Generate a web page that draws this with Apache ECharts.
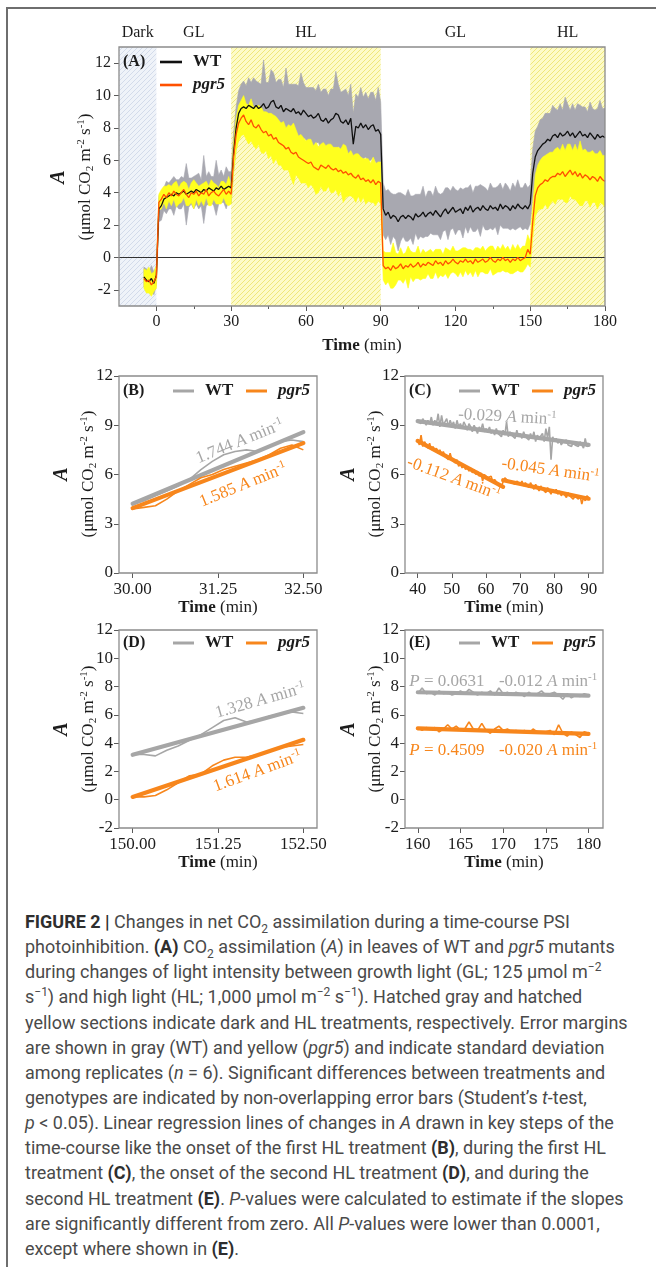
<!DOCTYPE html>
<html>
<head>
<meta charset="utf-8">
<title>Net CO2 assimilation during PSI photoinhibition</title>
<script src="https://cdn.jsdelivr.net/npm/echarts@6.0.0/dist/echarts.min.js"></script>
<style>
  html, body { margin: 0; padding: 0; background: #fff; }
  #page { position: relative; width: 656px; height: 1267px; overflow: hidden; background: #fff; }
  #frame { position: absolute; left: 6px; top: 7px; width: 720px; height: 1300px;
           border-left: 2px solid #6e6e6e; border-top: 2px solid #6e6e6e; }
  #chart { position: absolute; left: 0; top: 0; width: 656px; height: 880px; }
  #caption { position: absolute; left: 25px; top: 909px; font-family: Roboto, "Liberation Sans", Arial, sans-serif;
             font-size: 18px; line-height: 25.15px; color: #4a4a4a; white-space: nowrap; transform-origin: 0 0; }
  #caption .ln { height: 25.15px; }
  #caption b { color: #2e2e2e; }
  #caption sub, #caption sup { font-size: 12px; line-height: 0; }
</style>
</head>
<body>
<div id="page">
  <div id="frame"></div>
  <div id="chart"></div>
  <div id="caption">
    <div class="ln"><b>FIGURE 2 |</b> Changes in net CO<sub>2</sub> assimilation during a time-course PSI</div>
    <div class="ln">photoinhibition. <b>(A)</b> CO<sub>2</sub> assimilation (<i>A</i>) in leaves of WT and <i>pgr5</i> mutants</div>
    <div class="ln">during changes of light intensity between growth light (GL; 125 μmol m<sup>−2</sup></div>
    <div class="ln">s<sup>−1</sup>) and high light (HL; 1,000 μmol m<sup>−2</sup> s<sup>−1</sup>). Hatched gray and hatched</div>
    <div class="ln">yellow sections indicate dark and HL treatments, respectively. Error margins</div>
    <div class="ln">are shown in gray (WT) and yellow (<i>pgr5</i>) and indicate standard deviation</div>
    <div class="ln">among replicates (<i>n</i> = 6). Significant differences between treatments and</div>
    <div class="ln">genotypes are indicated by non-overlapping error bars (Student’s <i>t</i>-test,</div>
    <div class="ln"><i>p</i> &lt; 0.05). Linear regression lines of changes in <i>A</i> drawn in key steps of the</div>
    <div class="ln">time-course like the onset of the first HL treatment <b>(B)</b>, during the first HL</div>
    <div class="ln">treatment <b>(C)</b>, the onset of the second HL treatment <b>(D)</b>, and during the</div>
    <div class="ln">second HL treatment <b>(E)</b>. <i>P</i>-values were calculated to estimate if the slopes</div>
    <div class="ln">are significantly different from zero. All <i>P</i>-values were lower than 0.0001,</div>
    <div class="ln">except where shown in <b>(E)</b>.</div>
  </div>
</div>
<script>
// ---------- sampling grids ----------
function seq(start, count, step) {
  return Array.from({ length: count }, (_, i) => +(start + i * step).toFixed(4));
}

// ---------- (A) whole time course, one value per minute from -5 to 180 min ----------
const timeA = seq(-5, 186, 1);
const wtMeanA = [
  -1.2, -1.4, -1.5, -1.3, -1.6, -1.1,
  3.0, 3.2, 3.6, 3.7, 3.8, 3.9, 3.8, 4.0, 3.9, 4.0, 4.1, 3.9, 4.0, 4.1, 4.0, 4.2, 4.1, 4.0, 4.2, 4.1,
  4.3, 4.2, 4.1, 4.3, 4.2, 4.4, 4.2, 4.3, 4.4, 4.3,
  6.5, 8.0, 8.9, 9.2, 9.3, 9.2, 9.4, 9.3, 9.2, 9.4, 9.2, 9.3, 9.5, 9.2, 9.3, 9.6, 9.7, 9.3, 9.2, 9.4,
  9.0, 9.2, 9.1, 9.0, 9.2, 8.9, 9.0, 8.8, 9.1, 8.9, 8.7, 8.8, 8.6, 8.7, 8.9, 8.5, 8.4, 8.6, 8.3, 8.5,
  8.6, 8.9, 8.8, 8.4, 8.3, 8.5, 8.2, 8.6, 7.0, 8.1, 8.0, 8.3, 8.0, 8.2, 7.9, 8.1, 8.2, 7.8, 7.9, 7.6,
  3.0, 2.6, 2.8, 2.4, 2.6, 2.5, 2.2, 2.5, 2.6, 2.4, 2.6, 2.5, 2.3, 2.7, 2.5, 2.6, 2.8, 2.5, 2.7, 2.8,
  2.6, 2.9, 2.7, 2.5, 2.8, 3.0, 2.7, 2.9, 3.1, 2.8, 2.9, 3.0, 2.7, 3.1, 2.9, 3.2, 2.8, 3.0, 3.1, 2.9,
  3.2, 3.0, 2.9, 3.2, 3.0, 3.1, 2.9, 3.3, 3.0, 3.2, 3.1, 2.9, 3.2, 3.0, 3.3, 3.1, 3.0, 3.2, 3.0, 3.3,
  5.2, 6.2, 6.6, 6.8, 7.0, 7.1, 7.3, 7.2, 7.5, 7.6, 7.4, 7.7, 7.5, 7.6, 7.8, 7.5, 7.7, 7.4, 7.6, 7.8,
  7.5, 7.6, 7.4, 7.7, 7.5, 7.3, 7.6, 7.4, 7.5, 7.4
];
const wtSdA = [
  0.6, 0.7, 0.6, 0.8, 0.7, 0.6,
  0.8, 0.9, 0.7, 1.0, 0.8, 0.9, 1.2, 0.8, 0.9, 1.0, 0.8, 1.9, 0.9, 0.8, 1.0, 0.9, 1.1, 0.8, 2.1, 0.9,
  1.0, 0.8, 0.9, 1.7, 0.9, 1.0, 0.8, 1.3, 0.9, 1.0,
  1.2, 1.3, 1.4, 1.5, 1.6, 1.4, 1.7, 1.5, 1.9, 1.5, 1.6, 1.4, 2.7, 1.6, 1.5, 2.0, 1.7, 1.5, 1.8, 1.6,
  1.5, 2.5, 1.6, 1.7, 1.5, 1.8, 1.6, 2.6, 1.7, 1.6, 1.8, 1.7, 1.9, 1.6, 1.8, 1.7, 2.0, 1.8, 1.7, 1.9,
  1.8, 2.6, 1.9, 1.8, 2.0, 1.9, 1.8, 2.1, 1.9, 2.0, 1.9, 2.2, 1.9, 2.0, 1.9, 2.1, 2.0, 1.9, 2.6, 2.0,
  1.6, 1.5, 1.4, 1.6, 1.3, 1.4, 1.8, 1.5, 1.3, 1.4, 1.6, 1.3, 1.5, 1.2, 1.4, 1.3, 1.6, 1.2, 1.4, 1.3,
  1.2, 1.5, 1.3, 1.4, 1.2, 1.3, 1.6, 1.2, 1.3, 1.4, 1.2, 1.3, 1.5, 1.2, 1.4, 1.3, 1.2, 1.4, 1.3, 1.6,
  1.2, 1.3, 1.2, 1.4, 1.3, 1.2, 1.5, 1.3, 1.2, 1.4, 1.3, 1.2, 1.4, 1.3, 1.5, 1.2, 1.3, 1.4, 1.3, 1.2,
  1.5, 1.6, 1.5, 1.7, 1.6, 1.8, 1.6, 1.7, 1.9, 1.6, 1.7, 1.8, 1.6, 2.3, 1.7, 1.6, 1.8, 1.7, 1.9, 1.6,
  1.8, 1.7, 1.6, 1.9, 1.7, 1.8, 1.6, 2.3, 1.7, 1.8
];
const pgMeanA = [
  -1.3, -1.5, -1.4, -1.7, -1.5, -1.2,
  3.4, 3.6, 3.9, 3.7, 4.0, 3.8, 4.1, 3.9, 3.8, 4.0, 4.2, 3.9, 3.7, 4.0, 3.9, 4.1, 3.8, 4.0, 3.9, 4.2,
  3.8, 4.0, 4.1, 3.9, 3.8, 4.0, 4.2, 3.9, 4.1, 3.9,
  6.2, 7.6, 8.3, 8.6, 8.8, 8.4, 8.2, 8.5, 8.1, 8.0, 8.2, 7.9, 7.7, 7.8, 7.5, 7.6, 7.3, 7.4, 7.1, 7.0,
  6.9, 6.7, 6.8, 6.5, 6.4, 6.5, 6.2, 6.1, 6.0, 5.9, 5.8, 5.9, 5.6, 5.5, 5.4, 5.7, 5.6, 5.5, 5.7, 5.5,
  5.4, 5.5, 5.3, 5.4, 5.2, 5.3, 5.1, 5.2, 5.0, 4.9, 5.1, 4.8, 4.9, 4.7, 4.8, 4.6, 4.8, 4.5, 4.7, 4.6,
  -0.5, -0.7, -0.6, -0.8, -0.5, -0.7, -0.6, -0.4, -0.7, -0.5, -0.6, -0.4, -0.6, -0.5, -0.3, -0.6, -0.4, -0.5, -0.3, -0.4,
  -0.5, -0.2, -0.4, -0.3, -0.5, -0.2, -0.4, -0.3, -0.1, -0.3, -0.4, -0.2, -0.3, -0.1, -0.3, -0.2, -0.4, -0.1, -0.3, -0.2,
  -0.1, -0.3, -0.2, 0.0, -0.2, -0.3, -0.1, -0.2, 0.0, -0.2, -0.1, -0.3, -0.1, -0.2, 0.0, -0.2, -0.1, 0.0, 0.5, 0.2,
  2.2, 3.8, 4.3, 4.5, 4.6, 4.8, 4.7, 4.9, 5.0, 5.0, 5.2, 5.1, 5.3, 5.0, 5.2, 5.4, 5.1, 5.3, 5.0, 5.2,
  4.9, 5.1, 5.0, 4.8, 5.0, 4.9, 4.7, 5.0, 4.8, 4.7
];
const pgSdA = [
  0.6, 0.7, 0.8, 0.7, 0.6, 0.7,
  0.5, 0.6, 0.5, 0.7, 0.5, 0.6, 0.5, 0.8, 0.5, 0.6, 0.5, 0.7, 0.5, 0.6, 0.9, 0.5, 0.6, 0.5, 0.7, 0.5,
  0.6, 0.8, 0.5, 0.6, 0.5, 0.7, 0.5, 0.6, 0.9, 0.6,
  0.9, 1.0, 1.1, 1.1, 1.2, 1.1, 1.2, 1.3, 1.2, 1.3, 1.2, 1.4, 1.3, 1.2, 1.4, 1.3, 1.5, 1.3, 1.4, 1.3,
  1.5, 1.3, 1.4, 1.6, 1.9, 1.4, 1.3, 1.5, 1.4, 1.3, 1.5, 1.4, 1.3, 1.6, 1.4, 1.3, 1.5, 1.4, 1.3, 1.5,
  1.4, 1.3, 1.5, 1.3, 1.8, 1.6, 1.3, 1.4, 1.3, 1.5, 1.3, 1.4, 1.2, 1.4, 1.3, 1.2, 1.4, 1.3, 1.2, 1.3,
  0.9, 1.0, 0.9, 1.1, 1.4, 1.0, 0.8, 1.0, 0.9, 0.8, 1.3, 0.8, 0.9, 0.8, 1.0, 0.8, 0.9, 0.8, 0.7, 0.9,
  0.8, 0.7, 0.9, 0.8, 0.7, 0.8, 0.9, 0.7, 0.8, 0.7, 0.8, 0.7, 0.9, 0.7, 0.8, 0.7, 0.8, 0.7, 0.9, 0.7,
  0.8, 0.7, 0.8, 0.7, 0.9, 0.7, 0.8, 0.7, 0.8, 0.7, 0.8, 0.7, 0.9, 0.7, 0.8, 0.7, 0.8, 0.7, 0.9, 0.8,
  1.0, 1.3, 1.4, 1.5, 1.6, 1.5, 1.7, 1.6, 1.5, 1.7, 1.6, 1.5, 1.7, 1.6, 1.8, 1.6, 1.5, 1.7, 1.6, 2.0,
  1.7, 1.6, 1.5, 1.7, 1.6, 1.5, 1.7, 1.6, 1.5, 1.6
];

// light regimes along the time course
const phaseNames = ['Dark', 'GL', 'HL', 'GL', 'HL'];
const phaseStart = [-15, 0, 30, 90, 150];
const phaseEnd = [0, 30, 90, 150, 180];

// ---------- (B) onset of the first HL, 10-s means ----------
const timeB = seq(30, 16, 2.5 / 15);
const wtB = [4.2, 4.4, 4.7, 5.0, 5.3, 5.7, 6.3, 6.8, 7.2, 7.4, 7.5, 7.4, 7.7, 8.0, 8.1, 8.0];
const pgB = [3.9, 4.0, 4.1, 4.5, 5.0, 5.4, 5.8, 6.0, 6.3, 6.5, 6.7, 6.9, 7.2, 7.6, 7.8, 7.5];
// regression fits: [from, to, value at start, slope]
const fitsB = [[30, 32.5, 4.22, 1.744], [30, 32.5, 3.95, 1.585]];

// ---------- (C) during the first HL, 30-s means ----------
const timeC = seq(40, 101, 0.5);
const wtC = [
  9.2, 9.3, 9.1, 9.4, 9.2, 9.0, 9.3, 9.1, 9.5, 9.0, 9.3, 9.1, 9.7, 8.9, 9.6, 9.0, 9.2, 9.4, 8.9, 9.3,
  9.0, 9.2, 8.8, 9.3, 8.9, 9.1, 8.8, 9.2, 9.0, 8.7, 9.1, 8.9, 8.6, 9.0, 8.8, 8.5, 8.9, 8.7, 9.1, 8.6,
  8.8, 8.6, 8.9, 8.5, 8.7, 8.4, 8.8, 8.5, 8.6, 8.3, 8.7, 8.4, 9.2, 8.3, 8.6, 8.4, 8.5, 8.2, 8.7, 8.3,
  8.5, 8.2, 8.6, 8.3, 8.4, 8.1, 8.5, 8.2, 8.6, 8.0, 8.4, 8.2, 8.1, 8.5, 8.0, 8.8, 8.2, 8.9, 6.9, 8.3,
  8.0, 8.2, 7.9, 8.1, 7.8, 8.0, 7.9, 8.1, 7.8, 7.9, 7.7, 8.0, 7.8, 7.9, 7.7, 8.0, 7.8, 7.6, 8.2, 7.7,
  7.8
];
const pgC = [
  8.1, 7.8, 8.4, 7.7, 8.0, 7.9, 7.6, 7.9, 7.5, 7.7, 7.4, 7.6, 7.3, 7.5, 7.2, 7.4, 7.1, 7.2, 6.9, 7.3,
  6.9, 6.8, 6.7, 6.9, 6.5, 6.7, 6.4, 6.6, 6.3, 6.5, 6.2, 6.4, 6.1, 6.3, 6.0, 6.2, 5.9, 6.1, 5.6, 6.0,
  5.9, 5.8, 5.7, 5.9, 5.5, 5.7, 5.6, 5.4, 5.5, 5.3, 5.4, 5.8, 5.9, 5.6, 5.7, 5.5, 5.6, 5.4, 5.6, 5.5,
  5.4, 5.6, 5.3, 5.5, 5.4, 5.2, 5.5, 5.3, 5.1, 5.4, 5.2, 5.0, 5.3, 5.1, 5.2, 4.9, 5.2, 5.0, 4.8, 5.1,
  4.9, 5.1, 4.8, 5.0, 4.7, 4.9, 4.8, 4.6, 4.9, 4.7, 4.8, 4.5, 4.7, 4.8, 4.5, 4.7, 4.2, 4.6, 4.4, 4.7,
  4.6
];
const fitsC = [[40, 90, 9.25, -0.029], [40, 65, 8.05, -0.112], [65, 90, 5.65, -0.045]];

// ---------- (D) onset of the second HL, 10-s means ----------
const timeD = seq(150, 16, 2.5 / 15);
const wtD = [3.2, 3.2, 3.1, 3.5, 3.8, 4.2, 4.6, 5.1, 5.6, 5.8, 5.5, 5.6, 5.9, 6.1, 6.2, 6.1];
const pgD = [0.2, 0.2, 0.3, 0.7, 1.2, 1.7, 1.8, 2.4, 2.8, 3.0, 3.0, 3.2, 3.4, 3.7, 3.8, 3.9];
const fitsD = [[150, 152.5, 3.18, 1.328], [150, 152.5, 0.2, 1.614]];

// ---------- (E) during the second HL, 30-s means ----------
const timeE = seq(160, 41, 0.5);
const wtE = [
  7.5, 7.9, 7.5, 7.6, 7.4, 7.7, 7.5, 7.6, 7.4, 7.5, 7.7, 7.5, 7.8, 7.6, 7.4, 7.6, 7.5, 7.7, 7.4, 7.9,
  7.5, 7.6, 7.4, 7.6, 7.5, 7.3, 7.6, 7.4, 7.5, 7.7, 7.4, 7.5, 7.6, 7.4, 7.1, 7.5, 7.2, 7.4, 7.3, 7.5,
  7.4
];
const pgE = [
  5.1, 4.9, 5.1, 5.0, 5.1, 4.8, 5.0, 5.3, 5.0, 5.2, 4.9, 5.0, 5.5, 5.0, 4.9, 5.4, 4.9, 4.7, 5.0, 5.2,
  4.9, 5.0, 4.8, 4.9, 4.8, 4.9, 4.7, 5.0, 4.8, 4.7, 4.8, 4.9, 4.6, 5.3, 4.7, 4.5, 4.8, 4.6, 4.4, 4.8,
  4.7
];
const fitsE = [[160, 180, 7.6, -0.012], [160, 180, 5.05, -0.020]];
const pValuesE = ['0.0631', '0.4509'];

// ---------- styling ----------
const SERIF = '"Liberation Serif", "Times New Roman", Times, serif';
const INK = '#1c1c1c';
const BOX = '#8c8c8c';
const TICK = '#5a5a5a';
const WT_LINE = '#101010', PG_LINE = '#ff5000';
const WT_BAND = '#a8a8b0', PG_BAND = '#ffff1e';
const WT_FIT = '#a6a6a6', PG_FIT = '#f7861c';

function hatch(bg, fg) {
  const c = document.createElement('canvas');
  const s = 5;
  c.width = s; c.height = s;
  const g = c.getContext('2d');
  g.fillStyle = bg; g.fillRect(0, 0, s, s);
  g.strokeStyle = fg; g.lineWidth = 1;
  g.beginPath();
  g.moveTo(0, s); g.lineTo(s, 0);
  g.moveTo(-1, 1); g.lineTo(1, -1);
  g.moveTo(s - 1, s + 1); g.lineTo(s + 1, s - 1);
  g.stroke();
  return { image: c, repeat: 'repeat' };
}
const DARK_FILL = hatch('#eff3f9', '#d3dbea');
const HL_FILL = hatch('#fdfbc8', '#efe77a');

// ---------- layout of the five panels ----------
const grids = [
  { left: 119, top: 47, width: 486, height: 259 },
  { left: 119, top: 376, width: 198, height: 197 },
  { left: 405, top: 376, width: 198, height: 197 },
  { left: 119, top: 630, width: 198, height: 198 },
  { left: 405, top: 630, width: 198, height: 198 }
].map(g => Object.assign({ show: true, borderColor: BOX, borderWidth: 1.3, backgroundColor: 'transparent', z: 20 }, g));

const labelFont = (size) => ({ color: INK, fontFamily: SERIF, fontSize: size });
const timeName = {
  name: '{b|Time} (min)', nameLocation: 'middle',
  nameTextStyle: { color: INK, fontFamily: SERIF, fontSize: 17, rich: { b: { fontWeight: 'bold', fontFamily: SERIF, fontSize: 17, color: INK } } }
};

function xAxis(grid, min, max, ticks, fmt, fontSize, nameGap) {
  return Object.assign({
    type: 'value', gridIndex: grid, min, max, position: 'bottom',
    axisLine: { show: false, onZero: false }, splitLine: { show: false },
    axisTick: { show: true, customValues: ticks, length: 5, lineStyle: { color: TICK, width: 1 } },
    axisLabel: Object.assign({ customValues: ticks, formatter: fmt, margin: 8 }, labelFont(fontSize)),
    nameGap
  }, timeName);
}
function yAxis(grid, min, max, ticks, fontSize, margin) {
  return {
    type: 'value', gridIndex: grid, min, max,
    axisLine: { show: false, onZero: false }, splitLine: { show: false },
    axisTick: { show: true, customValues: ticks, length: 5, lineStyle: { color: TICK, width: 1 } },
    axisLabel: Object.assign({ customValues: ticks, margin }, labelFont(fontSize))
  };
}
const range = (a, b, s) => seq(a, Math.round((b - a) / s) + 1, s);

const phaseCentres = phaseStart.map((s, i) => (s + phaseEnd[i]) / 2);

const xAxes = [
  xAxis(0, -15, 180, range(0, 180, 30), v => String(v), 16, 31),
  // minor ticks of panel A
  { type: 'value', gridIndex: 0, min: -15, max: 180, position: 'bottom', axisLine: { show: false, onZero: false }, splitLine: { show: false },
    axisTick: { show: true, customValues: range(15, 165, 30), length: 3, lineStyle: { color: TICK, width: 1 } },
    axisLabel: { show: false } },
  // light regime names above panel A
  { type: 'value', gridIndex: 0, min: -15, max: 180, position: 'top', axisLine: { show: false, onZero: false }, splitLine: { show: false },
    axisTick: { show: false },
    axisLabel: Object.assign({ customValues: phaseCentres, margin: 6,
      formatter: v => phaseNames[phaseCentres.indexOf(v)] }, labelFont(16)) },
  xAxis(1, 29.8, 32.7, [30, 31.25, 32.5], v => v.toFixed(2), 17, 26),
  xAxis(2, 36.3, 94.2, range(40, 90, 10), v => String(v), 17, 26),
  xAxis(3, 149.8, 152.7, [150, 151.25, 152.5], v => v.toFixed(2), 17, 26),
  xAxis(4, 158.5, 181.7, range(160, 180, 5), v => String(v), 17, 26)
];
const yAxes = [
  yAxis(0, -3, 13, range(-2, 12, 2), 16, 8),
  yAxis(1, 0, 12, range(0, 12, 3), 17, 6),
  yAxis(2, 0, 12, range(0, 12, 3), 17, 6),
  yAxis(3, -2, 12, range(-2, 12, 2), 17, 6),
  yAxis(4, -2, 12, range(-2, 12, 2), 17, 6)
];

// ---------- series builders ----------
function band(times, mean, sd, fill, z) {
  return {
    type: 'custom', xAxisIndex: 0, yAxisIndex: 0, z, silent: true, clip: true,
    data: times.map((t, i) => [t, mean[i] - sd[i], mean[i] + sd[i]]),
    encode: { x: 0, y: [1, 2] },
    renderItem(params, api) {
      if (params.dataIndex !== 0) return;
      const upper = times.map((t, i) => api.coord([t, mean[i] + sd[i]]));
      const lower = times.map((t, i) => api.coord([t, mean[i] - sd[i]])).reverse();
      return { type: 'polygon', shape: { points: upper.concat(lower) }, style: { fill, stroke: fill, lineWidth: 0.6 } };
    }
  };
}
function trace(times, values, xi, yi, color, width, z) {
  return {
    type: 'line', xAxisIndex: xi, yAxisIndex: yi, z, silent: true,
    data: times.map((t, i) => [t, values[i]]),
    showSymbol: false, symbol: 'none', lineStyle: { color, width }
  };
}
function fitLine(fit, xi, yi, color, z) {
  const [t0, t1, y0, k] = fit;
  return {
    type: 'line', xAxisIndex: xi, yAxisIndex: yi, z, silent: true,
    data: [[t0, y0], [t1, y0 + k * (t1 - t0)]],
    showSymbol: false, symbol: 'none', lineStyle: { color, width: 4.2, cap: 'round' }
  };
}

const hatchAreas = [];
phaseNames.forEach((n, i) => {
  if (n === 'GL') return;
  hatchAreas.push([{ xAxis: phaseStart[i], itemStyle: { color: n === 'Dark' ? DARK_FILL : HL_FILL } }, { xAxis: phaseEnd[i] }]);
});

const series = [
  { type: 'line', xAxisIndex: 0, yAxisIndex: 0, data: [], z: 1, silent: true,
    markArea: { silent: true, data: hatchAreas } },
  { type: 'line', xAxisIndex: 0, yAxisIndex: 0, data: [], z: 2, silent: true,
    markLine: { silent: true, symbol: ['none', 'none'], label: { show: false },
      lineStyle: { color: '#333', width: 1, type: 'solid' }, data: [{ yAxis: 0 }] } },
  band(timeA, wtMeanA, wtSdA, WT_BAND, 3),
  band(timeA, pgMeanA, pgSdA, PG_BAND, 4),
  trace(timeA, wtMeanA, 0, 0, WT_LINE, 1.3, 5),
  trace(timeA, pgMeanA, 0, 0, PG_LINE, 1.3, 6),

  trace(timeB, wtB, 3, 1, WT_FIT, 1.6, 5), fitLine(fitsB[0], 3, 1, WT_FIT, 6),
  trace(timeB, pgB, 3, 1, PG_FIT, 1.6, 7), fitLine(fitsB[1], 3, 1, PG_FIT, 8),

  trace(timeC, wtC, 4, 2, WT_FIT, 1.6, 5), fitLine(fitsC[0], 4, 2, WT_FIT, 6),
  trace(timeC, pgC, 4, 2, PG_FIT, 1.6, 7), fitLine(fitsC[1], 4, 2, PG_FIT, 8), fitLine(fitsC[2], 4, 2, PG_FIT, 8),

  trace(timeD, wtD, 5, 3, WT_FIT, 1.6, 5), fitLine(fitsD[0], 5, 3, WT_FIT, 6),
  trace(timeD, pgD, 5, 3, PG_FIT, 1.6, 7), fitLine(fitsD[1], 5, 3, PG_FIT, 8),

  trace(timeE, wtE, 6, 4, WT_FIT, 1.6, 5), fitLine(fitsE[0], 6, 4, WT_FIT, 6),
  trace(timeE, pgE, 6, 4, PG_FIT, 1.6, 7), fitLine(fitsE[1], 6, 4, PG_FIT, 8)
];

const chart = echarts.init(document.getElementById('chart'), null, { renderer: 'canvas' });
chart.setOption({
  animation: false,
  backgroundColor: 'transparent',
  grid: grids, xAxis: xAxes, yAxis: yAxes, series
});

// ---------- text decorations ----------
const graphics = [];
function txt(x, y, text, opts) {
  graphics.push(Object.assign({ type: 'text', x, y, silent: true, z: 30,
    style: Object.assign({ text, fill: INK, font: '17px ' + SERIF, align: 'left', verticalAlign: 'middle' }, opts.style || {}) },
    opts.rotation ? { rotation: opts.rotation } : {}));
}
function seg(x1, x2, y, color, w) {
  graphics.push({ type: 'line', silent: true, z: 30, shape: { x1, y1: y, x2, y2: y }, style: { stroke: color, lineWidth: w } });
}

// panel A legend
txt(123, 62, '(A)', { style: { font: 'bold 16px ' + SERIF } });
seg(160, 182, 62, WT_LINE, 2.6);
txt(193, 62, 'WT', { style: { font: 'bold 17px ' + SERIF } });
seg(160, 182, 85, PG_LINE, 2.6);
txt(193, 85, 'pgr5', { style: { font: 'italic bold 17px ' + SERIF } });

// legends of panels B-E
[['(B)', 119, 391], ['(C)', 405, 391], ['(D)', 119, 643], ['(E)', 405, 643]].forEach(([tag, gx, y]) => {
  txt(gx + 4, y, tag, { style: { font: 'bold 16px ' + SERIF } });
  seg(gx + 54, gx + 75, y, WT_FIT, 3);
  txt(gx + 86, y, 'WT', { style: { font: 'bold 17px ' + SERIF } });
  seg(gx + 127, gx + 148, y, PG_FIT, 3);
  txt(gx + 159, y, 'pgr5', { style: { font: 'italic bold 17px ' + SERIF } });
});

// y axis titles
function yTitle(cx, cy) {
  graphics.push({ type: 'text', x: cx, y: cy, rotation: Math.PI / 2, silent: true, z: 30,
    style: {
      text: '{a|A}\n{b|(μmol CO}{sub|2}{b| m}{sup|-2}{b| s}{sup|-1}{b|)}',
      align: 'center', verticalAlign: 'middle', fill: INK,
      rich: {
        a: { font: 'italic bold 20px ' + SERIF, lineHeight: 34, fill: INK },
        b: { font: '17px ' + SERIF, lineHeight: 20, fill: INK },
        sub: { font: '11px ' + SERIF, verticalAlign: 'bottom', fill: INK },
        sup: { font: '11px ' + SERIF, verticalAlign: 'top', fill: INK }
      }
    } });
}
yTitle(69, 177);
yTitle(72, 474);
yTitle(359, 474);
yTitle(72, 729);
yTitle(359, 729);

// slope labels anchored in data coordinates
function slopeText(k) { return (k < 0 ? '-' : '') + Math.abs(k).toFixed(3); }
function slopeLabel(xi, yi, x, y, k, color, deg, align) {
  const p = chart.convertToPixel({ xAxisIndex: xi, yAxisIndex: yi }, [x, y]);
  graphics.push({ type: 'text', x: p[0], y: p[1], rotation: deg * Math.PI / 180, silent: true, z: 30,
    style: {
      text: '{n|' + slopeText(k) + ' }{i|A}{n| min}{s|-1}',
      align: align || 'center', verticalAlign: 'middle', fill: color,
      rich: {
        n: { font: '17px ' + SERIF, fill: color, lineHeight: 20 },
        i: { font: 'italic 17px ' + SERIF, fill: color, lineHeight: 20 },
        s: { font: '11px ' + SERIF, fill: color, verticalAlign: 'top' }
      }
    } });
}
slopeLabel(3, 1, 31.57, 8.0, fitsB[0][3], WT_FIT, 22);
slopeLabel(3, 1, 31.62, 5.35, fitsB[1][3], PG_FIT, 22);
slopeLabel(4, 2, 66.2, 9.5, fitsC[0][3], WT_FIT, -3);
slopeLabel(4, 2, 50.5, 5.75, fitsC[1][3], PG_FIT, -20);
slopeLabel(4, 2, 78.8, 6.25, fitsC[2][3], PG_FIT, -8);
slopeLabel(5, 3, 151.87, 7.0, fitsD[0][3], WT_FIT, 16);
slopeLabel(5, 3, 151.83, 2.0, fitsD[1][3], PG_FIT, 20);
slopeLabel(6, 4, 169.5, 8.35, fitsE[0][3], WT_FIT, 0, 'left');
slopeLabel(6, 4, 169.5, 3.5, fitsE[1][3], PG_FIT, 0, 'left');
[[8.35, WT_FIT, 0], [3.5, PG_FIT, 1]].forEach(([y, color, i]) => {
  const p = chart.convertToPixel({ xAxisIndex: 6, yAxisIndex: 4 }, [159.0, y]);
  graphics.push({ type: 'text', x: p[0], y: p[1], silent: true, z: 30,
    style: { text: '{i|P}{n| = ' + pValuesE[i] + '}', align: 'left', verticalAlign: 'middle', fill: color,
      rich: { i: { font: 'italic 17px ' + SERIF, fill: color }, n: { font: '17px ' + SERIF, fill: color } } } });
});

chart.setOption({ graphic: graphics });

// ---------- caption width ----------
(function fitCaption() {
  const cap = document.getElementById('caption');
  const lines = cap.querySelectorAll('.ln');
  const w = lines[4].scrollWidth;
  const k = 603 / w;
  cap.style.transform = 'scaleX(' + k.toFixed(4) + ')';
})();
</script>
</body>
</html>
